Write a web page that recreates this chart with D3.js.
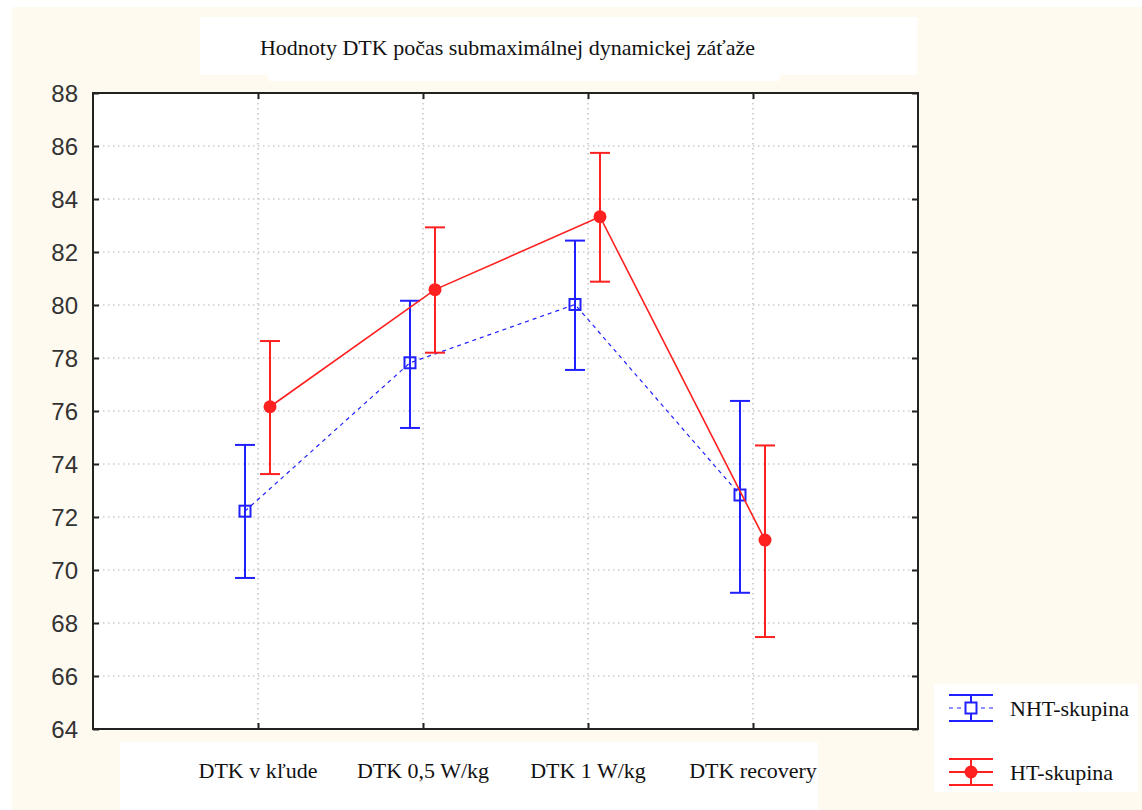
<!DOCTYPE html>
<html>
<head>
<meta charset="utf-8">
<script src="https://cdnjs.cloudflare.com/ajax/libs/d3/7.8.5/d3.min.js"></script>
<style>
  body { margin: 0; background: #ffffff; }
  .tickLabel { font-family: "Liberation Sans", Arial, sans-serif; font-size: 24px; fill: #333333; }
  .catLabel { font-family: "Liberation Serif", "Times New Roman", serif; font-size: 22px; fill: #111111; }
  .titleText { font-family: "Liberation Serif", "Times New Roman", serif; font-size: 22px; fill: #111111; }
  .legendText { font-family: "Liberation Serif", "Times New Roman", serif; font-size: 22px; fill: #111111; }
</style>
</head>
<body>
<div id="chart"></div>
<script>
// data
var categories = ["DTK v kľude", "DTK 0,5 W/kg", "DTK 1 W/kg", "DTK recovery"];
var yTicks = [64, 66, 68, 70, 72, 74, 76, 78, 80, 82, 84, 86, 88];

var nhtMean = [72.22, 77.82, 80.02, 72.83];
var nhtUpper = [74.72, 80.16, 82.43, 76.38];
var nhtLower = [69.70, 75.36, 77.55, 69.14];

var htMean = [76.16, 80.58, 83.33, 71.13];
var htUpper = [78.64, 82.93, 85.74, 74.70];
var htLower = [73.62, 78.20, 80.88, 67.47];

var seriesNames = ["NHT-skupina", "HT-skupina"];

// chart dimensions
var svgWidth = 1142;
var svgHeight = 810;

var margin = { top: 93, right: 224, bottom: 81, left: 93 };
var width = svgWidth - margin.left - margin.right;
var height = svgHeight - margin.top - margin.bottom;

var svg = d3.select("#chart")
  .append("svg")
  .attr("width", svgWidth)
  .attr("height", svgHeight);

// background patches (cream page with white boxes behind the texts)
svg.append("rect").attr("x", 12).attr("y", 7).attr("width", svgWidth - 12).attr("height", svgHeight - 7)
  .attr("fill", "#fffaf0");
svg.append("rect").attr("x", 200).attr("y", 17).attr("width", 717).attr("height", 58).attr("fill", "#ffffff");
svg.append("rect").attr("x", 268).attr("y", 28).attr("width", 512).attr("height", 53).attr("fill", "#ffffff");
svg.append("rect").attr("x", 120).attr("y", 742).attr("width", 698).attr("height", 68).attr("fill", "#ffffff");
svg.append("rect").attr("x", 934).attr("y", 684).attr("width", 204).attr("height", 108).attr("fill", "#ffffff");

var chartGroup = svg.append("g")
  .attr("transform", `translate(${margin.left}, ${margin.top})`);

// scales
var xScale = d3.scaleLinear()
  .domain([0, categories.length + 1])
  .range([0, width]);

var yScale = d3.scaleLinear()
  .domain([64, 88])
  .range([height, 0]);

// plot area
chartGroup.append("rect")
  .attr("width", width)
  .attr("height", height)
  .attr("fill", "#ffffff");

// dotted grid
chartGroup.selectAll(".hGrid")
  .data(yTicks.slice(1, -1))
  .enter()
  .append("line")
  .attr("x1", 0)
  .attr("x2", width)
  .attr("y1", d => yScale(d))
  .attr("y2", d => yScale(d))
  .attr("stroke", "#b4b4b4")
  .attr("stroke-width", 1.2)
  .attr("stroke-dasharray", "1.5,3.5");

chartGroup.selectAll(".vGrid")
  .data(categories)
  .enter()
  .append("line")
  .attr("x1", (d, i) => xScale(i + 1))
  .attr("x2", (d, i) => xScale(i + 1))
  .attr("y1", 0)
  .attr("y2", height)
  .attr("stroke", "#b4b4b4")
  .attr("stroke-width", 1.2)
  .attr("stroke-dasharray", "1.5,3.5");

// axes, ticks pointing inward on every side
var catTicks = categories.map((d, i) => i + 1);

chartGroup.append("g")
  .call(d3.axisLeft(yScale).tickValues(yTicks).tickSize(-6).tickFormat(""))
  .call(g => g.select(".domain").remove());
chartGroup.append("g")
  .attr("transform", `translate(${width}, 0)`)
  .call(d3.axisRight(yScale).tickValues(yTicks).tickSize(-6).tickFormat(""))
  .call(g => g.select(".domain").remove());
chartGroup.append("g")
  .attr("transform", `translate(0, ${height})`)
  .call(d3.axisBottom(xScale).tickValues(catTicks).tickSize(-6).tickFormat(""))
  .call(g => g.select(".domain").remove());
chartGroup.append("g")
  .call(d3.axisTop(xScale).tickValues(catTicks).tickSize(-6).tickFormat(""))
  .call(g => g.select(".domain").remove());

chartGroup.selectAll(".tick line")
  .attr("stroke", "#222222")
  .attr("stroke-width", 2);

// frame
chartGroup.append("rect")
  .attr("width", width)
  .attr("height", height)
  .attr("fill", "none")
  .attr("stroke", "#222222")
  .attr("stroke-width", 2);

// y tick labels
chartGroup.selectAll(".tickLabel")
  .data(yTicks)
  .enter()
  .append("text")
  .attr("class", "tickLabel")
  .attr("x", -15)
  .attr("y", d => yScale(d))
  .attr("dy", "0.36em")
  .attr("text-anchor", "end")
  .text(d => d);

// category labels
chartGroup.selectAll(".catLabel")
  .data(categories)
  .enter()
  .append("text")
  .attr("class", "catLabel")
  .attr("x", (d, i) => xScale(i + 1))
  .attr("y", height + 49)
  .attr("text-anchor", "middle")
  .text(d => d);

// title
svg.append("text")
  .attr("class", "titleText")
  .attr("x", margin.left + width / 2 + 2)
  .attr("y", 55)
  .attr("text-anchor", "middle")
  .text("Hodnoty DTK počas submaximálnej dynamickej záťaže");

// series drawing
var series = [
  { name: seriesNames[0], mean: nhtMean, upper: nhtUpper, lower: nhtLower, color: "#2020ff", offset: -13, dash: "4,4", lineWidth: 1.2, marker: "square" },
  { name: seriesNames[1], mean: htMean, upper: htUpper, lower: htLower, color: "#ff2020", offset: 12, dash: null, lineWidth: 1.6, marker: "circle" }
];

var capHalf = 10;

series.forEach(function(s) {
  var g = chartGroup.append("g");
  var px = i => xScale(i + 1) + s.offset;

  // connecting line
  var line = d3.line()
    .x((d, i) => px(i))
    .y(d => yScale(d));

  g.append("path")
    .datum(s.mean)
    .attr("d", line)
    .attr("fill", "none")
    .attr("stroke", s.color)
    .attr("stroke-width", s.lineWidth)
    .attr("stroke-dasharray", s.dash);

  // error bars
  s.mean.forEach(function(m, i) {
    g.append("line")
      .attr("x1", px(i)).attr("x2", px(i))
      .attr("y1", yScale(s.upper[i])).attr("y2", yScale(s.lower[i]))
      .attr("stroke", s.color).attr("stroke-width", 2);
    [s.upper[i], s.lower[i]].forEach(function(v) {
      g.append("line")
        .attr("x1", px(i) - capHalf).attr("x2", px(i) + capHalf)
        .attr("y1", yScale(v)).attr("y2", yScale(v))
        .attr("stroke", s.color).attr("stroke-width", 2);
    });
  });

  // markers
  if (s.marker === "square") {
    g.selectAll(".sq")
      .data(s.mean)
      .enter()
      .append("rect")
      .attr("x", (d, i) => px(i) - 5.5)
      .attr("y", d => yScale(d) - 5.5)
      .attr("width", 11)
      .attr("height", 11)
      .attr("fill", "none")
      .attr("stroke", s.color)
      .attr("stroke-width", 2);
  } else {
    g.selectAll(".dot")
      .data(s.mean)
      .enter()
      .append("circle")
      .attr("cx", (d, i) => px(i))
      .attr("cy", d => yScale(d))
      .attr("r", 6.5)
      .attr("fill", s.color);
  }
});

// legend
var legendY = [708, 772];
series.forEach(function(s, k) {
  var lg = svg.append("g").attr("transform", `translate(971, ${legendY[k]})`);
  lg.append("line").attr("x1", -22).attr("x2", 22).attr("y1", -13).attr("y2", -13)
    .attr("stroke", s.color).attr("stroke-width", 2);
  lg.append("line").attr("x1", -22).attr("x2", 22).attr("y1", 13).attr("y2", 13)
    .attr("stroke", s.color).attr("stroke-width", 2);
  lg.append("line").attr("x1", 0).attr("x2", 0).attr("y1", -13).attr("y2", 13)
    .attr("stroke", s.color).attr("stroke-width", 2);
  lg.append("line").attr("x1", -22).attr("x2", 22).attr("y1", 0).attr("y2", 0)
    .attr("stroke", s.color).attr("stroke-width", s.dash ? 1.2 : 2)
    .attr("stroke-dasharray", s.dash);
  if (s.marker === "square") {
    lg.append("rect").attr("x", -5.5).attr("y", -5.5).attr("width", 11).attr("height", 11)
      .attr("fill", "#ffffff").attr("stroke", s.color).attr("stroke-width", 2);
  } else {
    lg.append("circle").attr("r", 6.5).attr("fill", s.color);
  }
  lg.append("text")
    .attr("class", "legendText")
    .attr("x", 39)
    .attr("y", 7.5)
    .text(s.name);
});
</script>
</body>
</html>
